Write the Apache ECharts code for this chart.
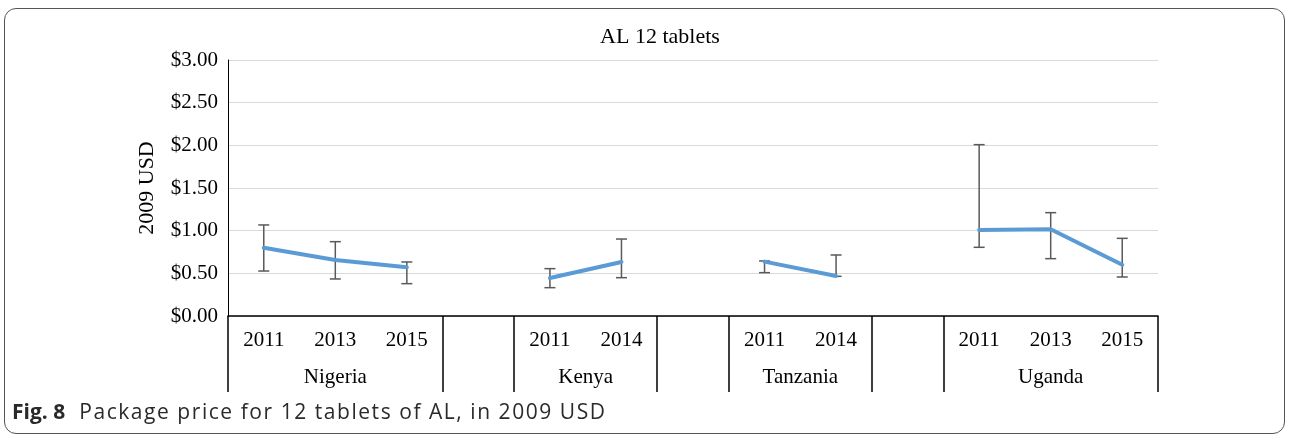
<!DOCTYPE html>
<html>
<head>
<meta charset="utf-8">
<script src="https://cdn.jsdelivr.net/npm/echarts@6/dist/echarts.min.js"></script>
<style>
  html, body { margin: 0; padding: 0; background: #fff; }
  #wrap { position: relative; width: 1290px; height: 434px; overflow: hidden; }
  #frame { position: absolute; left: 4px; top: 8px; width: 1281px; height: 426px; border: 1.2px solid #555; border-radius: 12px; box-sizing: border-box; }
  #chart { position: absolute; left: 0; top: 0; width: 1290px; height: 434px; }
  #caption { position: absolute; left: 12px; top: 398px; font-family: "Open Sans", "Noto Sans", sans-serif; font-size: 21px; line-height: 26px; color: #2a2a2a; white-space: nowrap; }
  #caption b { letter-spacing: 0; }
  #caption span { letter-spacing: 1.55px; margin-left: 14px; }
</style>
</head>
<body>
<div id="wrap">
  <div id="frame"></div>
  <div id="chart"></div>
  <div id="caption"><b>Fig. 8</b><span>Package price for 12 tablets of AL, in 2009 USD</span></div>
</div>
<script>
// ---- data ----
const categories = ['2011', '2013', '2015', '', '2011', '2014', '', '2011', '2014', '', '2011', '2013', '2015'];
const price      = [0.80, 0.656, 0.57, null, 0.445, 0.633, null, 0.637, 0.469, null, 1.008, 1.016, 0.60];
const errLow     = [0.527, 0.434, 0.379, null, 0.332, 0.449, null, 0.508, 0.465, null, 0.805, 0.672, 0.457];
const errHigh    = [1.067, 0.871, 0.633, null, 0.555, 0.902, null, 0.645, 0.715, null, 2.008, 1.211, 0.91];
const groupNames   = ['Nigeria', 'Kenya', 'Tanzania', 'Uganda'];
const groupCenters = [1.5, 5, 8, 11.5];
const groupBoundaries = [0, 3, 4, 6, 7, 9, 10, 13];
const yTicks = [0, 0.5, 1, 1.5, 2, 2.5, 3];

const serif = '"Liberation Serif", "Times New Roman", serif';
const errData = categories.map((c, i) => errLow[i] == null ? null : [i, errLow[i], errHigh[i]]).filter(d => d);

const chart = echarts.init(document.getElementById('chart'), null, { renderer: 'canvas' });
chart.setOption({
  animation: false,
  title: { text: 'AL 12 tablets', left: 660, top: 26, textAlign: 'center', padding: 0,
    textStyle: { fontFamily: serif, fontSize: 22, fontWeight: 'normal', color: '#000' } },
  grid: { left: 228, right: 132, top: 60, bottom: 118, containLabel: false },
  xAxis: [
    {
      type: 'category', data: categories, boundaryGap: true, position: 'bottom',
      axisLine: { show: true, lineStyle: { color: '#000', width: 1.5 } },
      axisTick: { show: true, length: 76, inside: false, alignWithLabel: false,
        interval: function (index) { return groupBoundaries.indexOf(index) >= 0; },
        lineStyle: { color: '#000', width: 1.5 } },
      axisLabel: { interval: 0, margin: 14, fontFamily: serif, fontSize: 21, color: '#000' },
      splitLine: { show: false }
    },
    {
      type: 'value', min: 0, max: 13, interval: 0.5, position: 'bottom',
      axisLine: { show: false }, axisTick: { show: false }, splitLine: { show: false },
      axisLabel: { margin: 51, fontFamily: serif, fontSize: 21, color: '#000', showMinLabel: true, showMaxLabel: true,
        formatter: function (v) { const k = groupCenters.indexOf(v); return k >= 0 ? groupNames[k] : ''; } }
    }
  ],
  yAxis: {
    type: 'value', min: yTicks[0], max: yTicks[yTicks.length - 1], interval: 0.5,
    name: '2009 USD', nameLocation: 'middle', nameGap: 70, nameRotate: 90,
    nameTextStyle: { fontFamily: serif, fontSize: 22, color: '#000' },
    axisLine: { show: true, lineStyle: { color: '#000', width: 1 } },
    axisTick: { show: false },
    axisLabel: { margin: 10, fontFamily: serif, fontSize: 21, color: '#000',
      formatter: function (v) { return '$' + v.toFixed(2); } },
    splitLine: { show: true, lineStyle: { color: '#d9d9d9', width: 1.2 } }
  },
  series: [
    {
      type: 'custom', xAxisIndex: 0, z: 2,
      data: errData,
      renderItem: function (params, api) {
        const x = api.value(0);
        const lo = api.coord([x, api.value(1)]);
        const hi = api.coord([x, api.value(2)]);
        const hw = 5.5;
        const style = { stroke: '#595959', lineWidth: 1.5, fill: null };
        return { type: 'group', children: [
          { type: 'line', shape: { x1: hi[0], y1: hi[1], x2: lo[0], y2: lo[1] }, style: style },
          { type: 'line', shape: { x1: hi[0] - hw, y1: hi[1], x2: hi[0] + hw, y2: hi[1] }, style: style },
          { type: 'line', shape: { x1: lo[0] - hw, y1: lo[1], x2: lo[0] + hw, y2: lo[1] }, style: style }
        ] };
      }
    },
    {
      type: 'line', xAxisIndex: 0, z: 3, data: price, connectNulls: false,
      showSymbol: false, symbol: 'none',
      lineStyle: { color: '#5B9BD5', width: 4, cap: 'round', join: 'round' }
    }
  ]
});
</script>
</body>
</html>
